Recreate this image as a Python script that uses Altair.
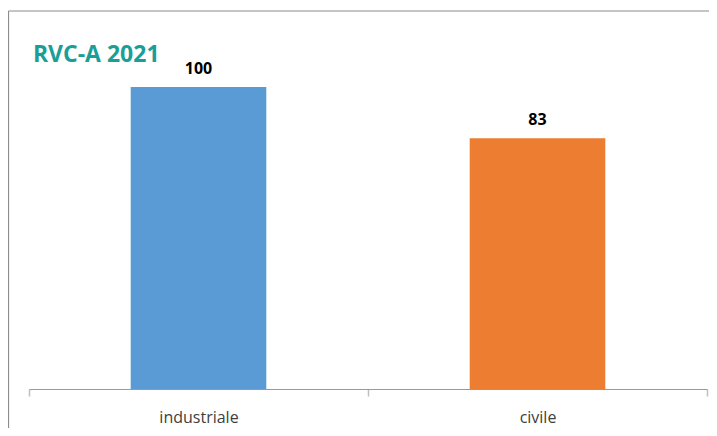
import altair as alt
import pandas as pd

categories = ["industriale", "civile"]
values = [100, 83]
colors = ["#5B9BD5", "#ED7D31"]

df = pd.DataFrame({"cat": categories, "val": values, "color": colors})

x_enc = alt.X(
    "cat:N",
    sort=categories,
    scale=alt.Scale(paddingInner=0, paddingOuter=0),
    axis=alt.Axis(
        title=None,
        labelAngle=0,
        tickBand="extent",
        tickSize=7,
        tickColor="#BFBFBF",
        tickWidth=1.5,
        domainColor="#999999",
        domainWidth=1,
        labelFont="Open Sans",
        labelFontSize=16,
        labelColor="#404040",
        labelBaseline="alphabetic",
        labelPadding=26,
        grid=False,
    ),
)
y_enc = alt.Y("val:Q", scale=alt.Scale(domain=[0, 100], nice=False, zero=True), axis=None)

base = alt.Chart(df)

bars = base.mark_bar(width=alt.RelativeBandSize(0.4)).encode(
    x=x_enc,
    y=y_enc,
    color=alt.Color("color:N", scale=None),
)

labels = base.mark_text(
    dy=-13, baseline="alphabetic", font="Open Sans", fontSize=16, fontWeight="bold", color="#000000"
).encode(x=alt.X("cat:N", sort=categories), y="val:Q", text="val:Q")

border_left = alt.Chart(pd.DataFrame({"a": [0]})).mark_rule(color="#8C8C8C", strokeWidth=1.2).encode(
    x=alt.value(-20.5), x2=alt.value(-20.5), y=alt.value(-76), y2=alt.value(360)
)
border_top = alt.Chart(pd.DataFrame({"a": [0]})).mark_rule(color="#8C8C8C", strokeWidth=1.2).encode(
    x=alt.value(-20.5), x2=alt.value(690), y=alt.value(-76), y2=alt.value(-76)
)

chart = (
    alt.layer(bars, labels, border_left, border_top)
    .properties(
        width=678,
        height=302,
        padding={"left": 21, "top": 79, "right": 2, "bottom": 39},
        autosize=alt.AutoSizeParams(type="none"),
        title=alt.TitleParams(
            "RVC-A 2021",
            anchor="start",
            dx=25,
            dy=75,
            offset=0,
            baseline="alphabetic",
            font="Open Sans",
            fontSize=23,
            fontWeight="bold",
            color="#1B9E97",
        ),
    )
    .configure_view(stroke=None)
)

chart.save("out.html", embed_options={"renderer": "svg", "actions": False})
